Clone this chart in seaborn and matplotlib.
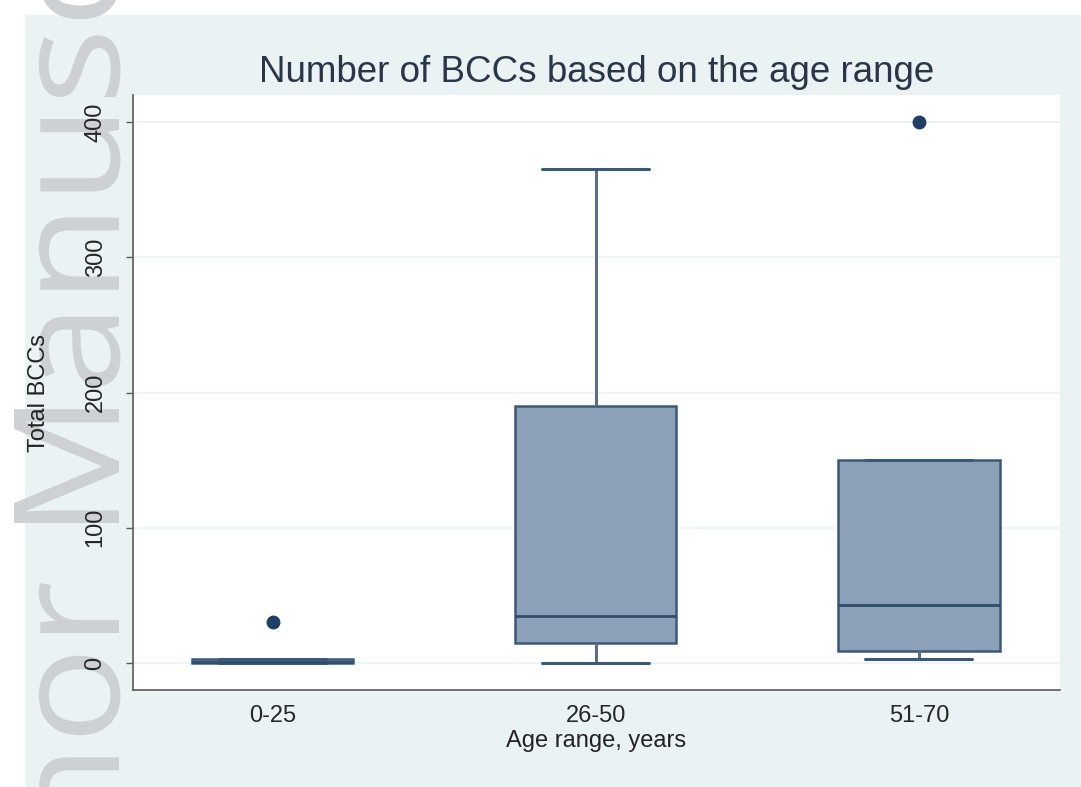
import numpy as np
import pandas as pd
import matplotlib
matplotlib.use("Agg")
import matplotlib.pyplot as plt
from matplotlib.patches import Rectangle, PathPatch
from matplotlib.textpath import TextPath
from matplotlib.font_manager import FontProperties
from matplotlib.transforms import Affine2D, IdentityTransform
import seaborn as sns

# --- data (values chosen so the box stats match) ---
age_groups = ["0-25", "26-50", "51-70"]
bcc_0_25 = [0, 0, 0, 1, 1, 2, 3, 3, 30]
bcc_26_50 = [0, 15, 35, 190, 365]
bcc_51_70 = [3, 9, 9, 43, 43, 43, 150, 150, 400]
y_ticks = [0, 100, 200, 300, 400]

title = "Number of BCCs based on the age range"
x_label = "Age range, years"
y_label = "Total BCCs"
watermark = "Author Manuscript"

df = pd.DataFrame({
    "age": [age_groups[0]] * len(bcc_0_25) + [age_groups[1]] * len(bcc_26_50)
           + [age_groups[2]] * len(bcc_51_70),
    "bcc": bcc_0_25 + bcc_26_50 + bcc_51_70,
})

sns.set_style("white")
plt.rcParams["font.family"] = ["Liberation Sans", "DejaVu Sans"]

W, H = 1081, 787
fig = plt.figure(figsize=(W / 100, H / 100), dpi=100, facecolor="white")

# stata-like light background panel
fig.patches.append(Rectangle((25 / W, 0), 1 - 25 / W, (H - 15) / H,
                             transform=fig.transFigure, facecolor="#EAF2F3",
                             edgecolor="none", zorder=-5))

# watermark: a slightly stretched text path, rotated, with the "M" where it sits in the picture
wm_font = FontProperties(family=["Open Sans", "DejaVu Sans"], weight="normal")
wm_size, wm_stretch = 147, 1.1
wm_path = TextPath((0, 0), watermark, size=wm_size, prop=wm_font)
m_left = (TextPath((0, 0), "Author M", size=wm_size, prop=wm_font).get_extents().x1
          - TextPath((0, 0), "M", size=wm_size, prop=wm_font).get_extents().width)
y0 = (H - 523) - wm_stretch * m_left
wm_tr = Affine2D().scale(wm_stretch, 1).rotate_deg(90).translate(119, y0)
fig.patches.append(PathPatch(wm_tr.transform_path(wm_path), transform=IdentityTransform(),
                             facecolor="#cdd1d3", edgecolor="none", zorder=-2))

ax = fig.add_axes([133 / W, (H - 690) / H, (1060 - 133) / W, (690 - 95) / H])
ax.set_facecolor("white")

box_fill = "#8CA1B8"
edge = "#3B5977"
sns.boxplot(data=df, x="age", y="bcc", order=age_groups, ax=ax,
            color=box_fill, linecolor=edge, width=0.5, linewidth=1.8, saturation=1,
            capwidths=0.33,
            whiskerprops={"color": "#5C6E82", "linewidth": 2.2},
            capprops={"color": edge, "linewidth": 2.2},
            medianprops={"color": "#2E4C6B", "linewidth": 2},
            flierprops={"marker": "o", "markerfacecolor": "#1F3F66",
                        "markeredgecolor": "#1F3F66", "markersize": 9})

ax.set_xlim(-0.432, 2.437)
ax.set_ylim(-20, 420)
ax.set_yticks(y_ticks)
ax.grid(axis="y", color="#EAF2F3", linewidth=1.2)
ax.set_axisbelow(True)

for s in ["top", "right"]:
    ax.spines[s].set_visible(False)
for s in ["left", "bottom"]:
    ax.spines[s].set_color("#5a5a5a")
    ax.spines[s].set_linewidth(1.2)

ax.tick_params(axis="y", left=True, length=5, width=1, color="#5a5a5a",
               labelrotation=90, labelsize=17, pad=14)
ax.tick_params(axis="x", bottom=False, length=0, labelsize=17, pad=11)
for lab in ax.get_yticklabels():
    lab.set_va("center")

ax.set_xlabel(x_label, fontsize=17, labelpad=2, color="#222222")
ax.set_ylabel(y_label, fontsize=17, labelpad=25, color="#222222")
ax.set_title(title, fontsize=26.5, color="#2a3548", pad=9)

fig.savefig("out.png", dpi=100)
